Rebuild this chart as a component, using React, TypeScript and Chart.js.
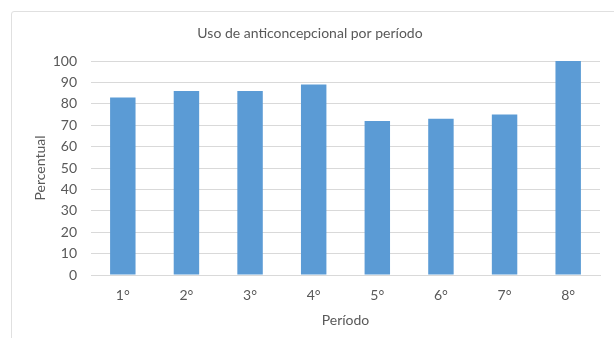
import React, { useEffect, useRef } from "react";
import { Chart, registerables } from "chart.js";

Chart.register(...registerables);

const categories = ["1°", "2°", "3°", "4°", "5°", "6°", "7°", "8°"];
const values = [83, 86, 86, 89, 72, 73, 75, 100];
const chartTitle = "Uso de anticoncepcional por período";
const xTitle = "Período";
const yTitle = "Percentual";

const FONT = "Lato, 'Open Sans', sans-serif";
const TEXT = "#595959";

export default function App() {
  const ref = useRef<HTMLCanvasElement | null>(null);

  useEffect(() => {
    if (!ref.current) return;
    const chart = new Chart(ref.current, {
      type: "bar",
      data: {
        labels: categories,
        datasets: [
          {
            data: values,
            backgroundColor: "#5B9BD5",
            borderWidth: 0,
            barPercentage: 1,
            categoryPercentage: 0.4,
          },
        ],
      },
      options: {
        responsive: false,
        animation: false,
        layout: { padding: { left: 20, right: 14, top: 0, bottom: 6 } },
        plugins: {
          legend: { display: false },
          tooltip: { enabled: false },
          title: {
            display: true,
            text: chartTitle,
            color: TEXT,
            font: { family: FONT, size: 14, weight: "normal" },
            padding: { top: 24.6, bottom: 19.6 },
          },
        },
        scales: {
          x: {
            grid: { display: false, drawTicks: false },
            border: { display: true, color: "#d9d9d9" },
            ticks: { color: TEXT, font: { family: FONT, size: 14 }, padding: 12 },
            title: {
              display: true,
              text: xTitle,
              color: TEXT,
              font: { family: FONT, size: 14 },
              padding: { top: 0, bottom: 3 },
            },
            afterFit: (scale: any) => {
              scale.height = 57;
            },
          },
          y: {
            min: 0,
            max: 100,
            ticks: { stepSize: 10, color: TEXT, font: { family: FONT, size: 14 }, padding: 14 },
            grid: { color: "#d9d9d9", drawTicks: false },
            border: { display: false },
            title: {
              display: true,
              text: yTitle,
              color: TEXT,
              font: { family: FONT, size: 14 },
              padding: { top: 11.6, bottom: 0 },
            },
            afterFit: (scale: any) => {
              scale.width = 71;
            },
          },
        },
      },
    });
    return () => chart.destroy();
  }, []);

  return (
    <div style={{ position: "absolute", left: 0, top: 0, width: 614, height: 338, overflow: "hidden", background: "#fff" }}>
      <div
        style={{
          position: "absolute",
          left: 11,
          top: 11,
          width: 640,
          height: 400,
          border: "1px solid #e0e0e0",
          borderRadius: 3,
          boxSizing: "border-box",
        }}
      />
      <canvas ref={ref} width={614} height={338} style={{ position: "absolute", left: 0, top: 0 }} />
    </div>
  );
}
